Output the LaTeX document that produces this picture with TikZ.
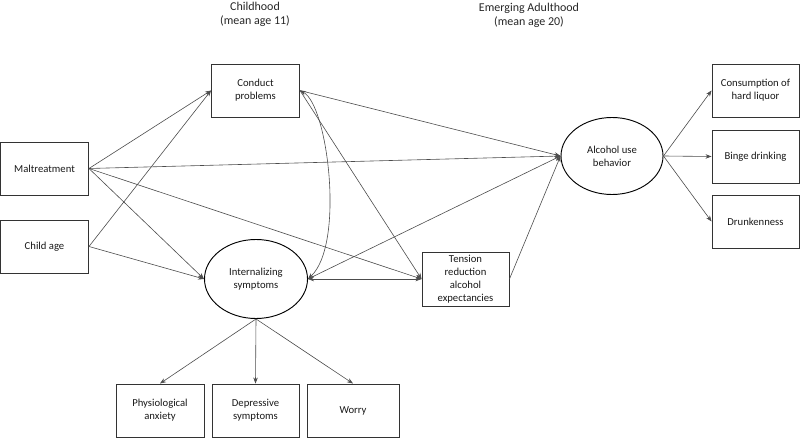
\documentclass[tikz,border=0pt]{standalone}
\usepackage{fontspec}
\setmainfont{Carlito}
\usetikzlibrary{arrows.meta,shapes.geometric}
\begin{document}
\begin{tikzpicture}[x=0.75pt,y=-0.75pt,
  box/.style={draw=black!80,line width=0.7pt,align=center,inner sep=1pt,
    font=\fontsize{8}{9.75}\selectfont,text=black!90},
  latent/.style={shape=ellipse,draw=black,line width=0.7pt,align=center,inner sep=0pt,
    font=\fontsize{8}{9.75}\selectfont,text=black!90},
  title/.style={align=center,font=\fontsize{9}{10.5}\selectfont,text=black!85},
  path/.style={draw=black!70,line width=0.45pt,-{Stealth[length=4.5pt,width=3.4pt]}},
  cov/.style={draw=black!70,line width=0.45pt,{Stealth[length=4.5pt,width=3.4pt]}-{Stealth[length=4.5pt,width=3.4pt]}}
]
\useasboundingbox (0,0) rectangle (800,438);
% titles
\node[title] (t1) at (255,14) {Childhood\\(mean age 11)};
\node[title] (t2) at (529,15) {Emerging Adulthood\\(mean age 20)};
% boxes
\node[box,minimum width=88*0.75pt,minimum height=53*0.75pt] (mal) at (44.5,168.5) {Maltreatment};
\node[box,minimum width=88*0.75pt,minimum height=53*0.75pt] (age) at (44.5,246.5) {Child age};
\node[box,minimum width=88*0.75pt,minimum height=53*0.75pt] (cp) at (255.5,90.5) {Conduct\\problems};
\node[box,minimum width=87*0.75pt,minimum height=54*0.75pt] (ten) at (465.5,279) {Tension\\reduction\\alcohol\\expectancies};
\node[box,minimum width=87*0.75pt,minimum height=53*0.75pt] (hl) at (755.5,90.5) {Consumption of\\hard liquor};
\node[box,minimum width=87*0.75pt,minimum height=53*0.75pt] (bd) at (755.5,156.5) {Binge drinking};
\node[box,minimum width=87*0.75pt,minimum height=53*0.75pt] (dr) at (755.5,221.5) {Drunkenness};
\node[box,minimum width=88*0.75pt,minimum height=53*0.75pt] (pa) at (160,410.5) {Physiological\\anxiety};
\node[box,minimum width=87*0.75pt,minimum height=53*0.75pt] (ds) at (255.5,410.5) {Depressive\\symptoms};
\node[box,minimum width=92*0.75pt,minimum height=53*0.75pt] (wo) at (353,410.5) {Worry};
% latents
\node[latent,minimum width=103*0.75pt,minimum height=79*0.75pt] (int) at (256,279) {Internalizing\\symptoms};
\node[latent,minimum width=102*0.75pt,minimum height=77*0.75pt] (alc) at (612,156) {Alcohol use\\behavior};
% paths
\draw[path] (mal.east) -- (cp.west);
\draw[path] (age.east) -- (cp.west);
\draw[path] (mal.east) -- (alc.west);
\draw[path] (mal.east) -- (int.west);
\draw[path] (mal.east) -- (ten.west);
\draw[path] (age.east) -- (int.west);
\draw[path] (cp.east) -- (alc.west);
\draw[path] (cp.east) -- (ten.west);
\draw[path] (int.east) -- (alc.west);
\draw[cov] (int.east) -- (ten.west);
\draw[path] (ten.east) -- (alc.west);
\draw[cov] (cp.east) .. controls (328,105) and (345,245) .. (int.east);
\draw[path] (alc.east) -- (hl.west);
\draw[path] (alc.east) -- (bd.west);
\draw[path] (alc.east) -- (dr.west);
\draw[path] (int.south) -- (pa.north);
\draw[path] (int.south) -- (ds.north);
\draw[path] (int.south) -- (wo.north);
\end{tikzpicture}
\end{document}
